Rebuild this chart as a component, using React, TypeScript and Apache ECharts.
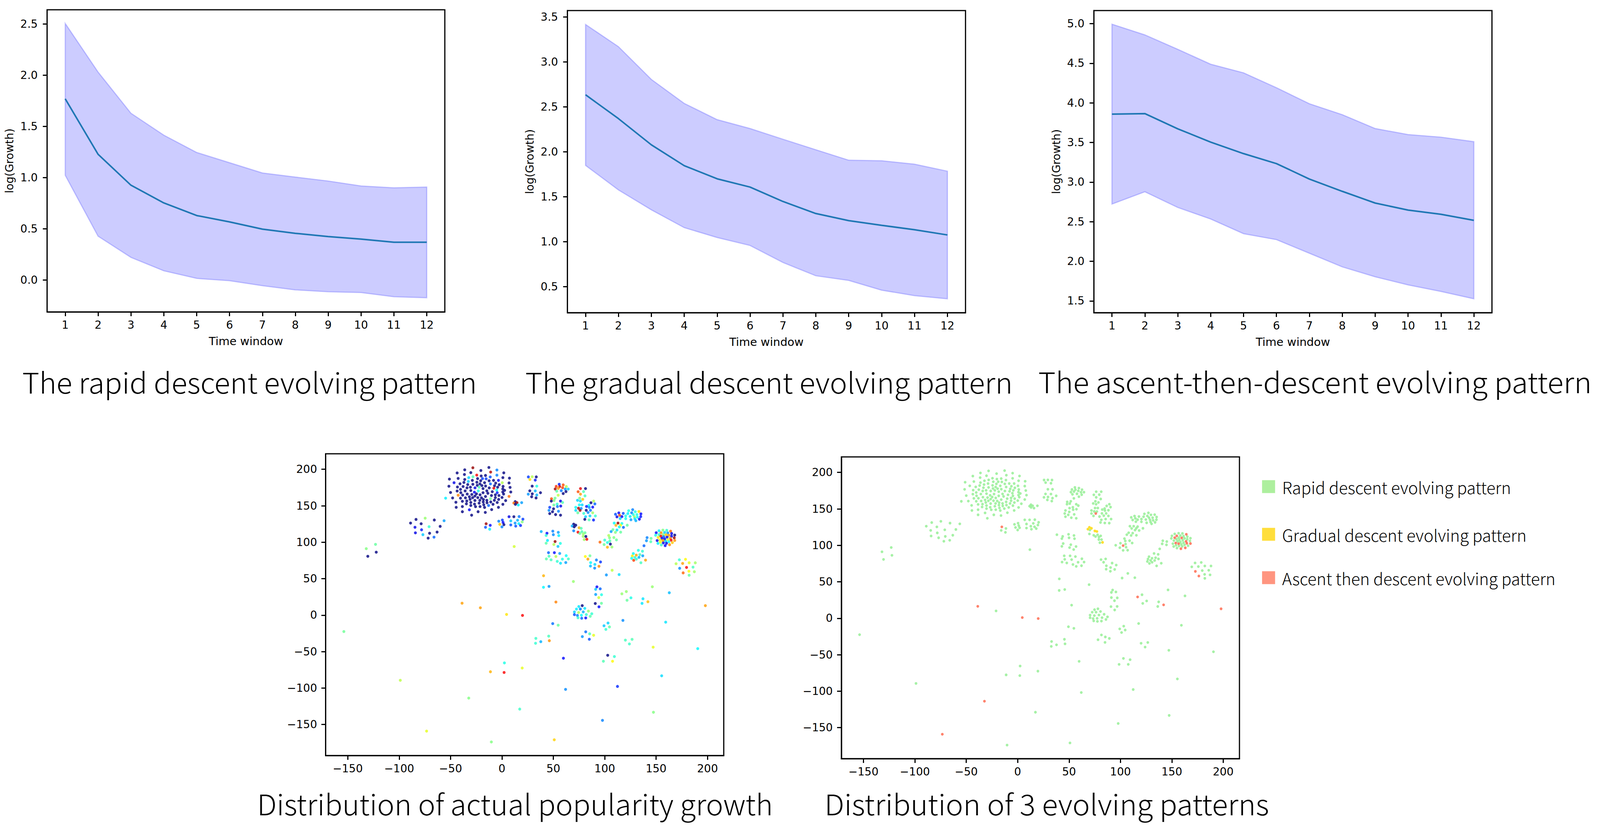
import React, { useEffect, useRef } from "react";
import * as echarts from "echarts";

const timeWindows = [1, 2, 3, 4, 5, 6, 7, 8, 9, 10, 11, 12];

const rapidMean = [1.769, 1.227, 0.925, 0.752, 0.629, 0.567, 0.496, 0.455, 0.424, 0.399, 0.368, 0.368];
const rapidUpper = [2.505, 2.03, 1.628, 1.414, 1.245, 1.145, 1.045, 1.005, 0.966, 0.918, 0.9, 0.907];
const rapidLower = [1.022, 0.427, 0.22, 0.089, 0.015, -0.008, -0.056, -0.097, -0.115, -0.123, -0.164, -0.174];

const gradualMean = [2.634, 2.369, 2.078, 1.846, 1.7, 1.608, 1.448, 1.314, 1.235, 1.183, 1.134, 1.076];
const gradualUpper = [3.416, 3.169, 2.805, 2.538, 2.358, 2.259, 2.14, 2.023, 1.907, 1.901, 1.863, 1.785];
const gradualLower = [1.849, 1.576, 1.355, 1.157, 1.047, 0.959, 0.77, 0.622, 0.57, 0.462, 0.401, 0.366];

const ascentMean = [3.857, 3.864, 3.672, 3.504, 3.359, 3.233, 3.038, 2.883, 2.735, 2.646, 2.593, 2.517];
const ascentUpper = [4.993, 4.858, 4.676, 4.488, 4.379, 4.191, 3.989, 3.851, 3.676, 3.6, 3.567, 3.51];
const ascentLower = [2.722, 2.877, 2.679, 2.533, 2.348, 2.273, 2.101, 1.929, 1.804, 1.701, 1.619, 1.526];

const rapidTicks = [0, 0.5, 1, 1.5, 2, 2.5];
const gradualTicks = [0.5, 1, 1.5, 2, 2.5, 3, 3.5];
const ascentTicks = [1.5, 2, 2.5, 3, 3.5, 4, 4.5, 5];
const tsneXTicks = [-150, -100, -50, 0, 50, 100, 150, 200];
const tsneYTicks = [-150, -100, -50, 0, 50, 100, 150, 200];

// t-SNE points: x, y, actual growth (0..1 on the jet scale), pattern (absent = rapid, 1 = gradual, 2 = ascent)
const mainCluster: number[][] = [
  [-28.3,202.1,.98],[-12.7,202.5,0],[-36.2,199.3,0],[-20.5,198.4,0],[-4.9,199.1,.25],[-11,196.2,.95],[-43.6,195,0],[-30.3,195.5,0],[1.8,195.2,0],[-36.5,192.9,0],
  [-24.5,192.1,.88],[-20.2,190.9,0],[-16,191.6,0],[-4.9,192,.25],[-32.3,188.6,.33],[-28.2,189.8,.45],[-11.4,189.5,.2],[-42.6,187.5,0],[-51.1,186.6,0],[-36.2,186.1,0],
  [-23.7,187.3,0],[-18.9,187.3,.18],[-15.4,187,.18],[.9,188.6,0],[7.3,187.9,0],[-28.8,184.8,0],[-20.7,184.3,0],[-12.5,184.3,0],[-8.2,184.8,0],[-3.4,184.8,.12],
  [-32.7,183.4,.32],[-37,182,0],[-24.4,182.3,0],[-16.9,181.6,0],[-6.1,181.1,0],[-46.6,181.6,.1],[.3,181.6,.55],[6.9,181.3,0],[-40.8,180.2,0],[-33.3,179.1,0],
  [-28.3,179.5,0],[-21.4,180,0],[-11.2,180,.22],[-2.7,178.9,0],[-24,178,0],[-19.5,177.7,0],[-15.9,177.1,0],[-7.2,177.5,0],[-51.6,176.8,0],[-37.8,176.4,0],
  [1.1,176.6,0],[-43.3,175.7,0],[-30.7,175.5,0],[-34,174.6,0],[-26.2,174.6,.1],[-22.2,175.5,.45],[-18.4,173.6,0],[-12.4,174.5,0],[-7.9,174.1,.9],[-4.2,175.5,0],
  [7.9,175.2,0],[-40.3,172.5,0],[.8,173,0],[-30.3,170.9,0],[-35.8,170.4,0],[-43.6,170.2,0],[-23,170.4,.4],[-14.7,170.5,0],[-5.1,171.6,.38],[2.6,171.2,0],
  [-9.4,169.3,0],[-26.8,168.6,.12],[.8,168.9,0],[8.6,168.9,0],[-40,168,0],[-50,168.2,0],[-18.4,167.9,0],[-4.6,167.9,.15],[-13.7,167.1,0],[-33.8,166.1,0],
  [-29.3,165.5,0],[-24.8,166.3,0],[-21.3,165,0],[-6.4,165,0],[1.6,166.1,0],[-38.2,164.6,0],[-42.6,164.5,.75],[-26.3,163.4,0],[-10.2,164.1,0],[-2.9,164.1,0],
  [6.9,162.9,.77],[-31.7,162.3,0],[-16,162.7,0],[-35.5,160.9,0],[-40.3,160.5,0],[-48,160.7,0],[-28.5,161.1,0],[-23.5,161.2,0],[-19.9,160.9,0],[-6.4,161.2,0],
  [.1,161.4,0],[-54.8,160.4,.36],[-11.2,159.6,.48],[-31,158.8,0],[-18,158.6,0],[-26.3,157.3,0],[-21.5,157.5,0],[-14.7,157.5,0],[-7.4,157.5,0],[-3.2,158.7,0],
  [-34.2,156.6,0],[-38.5,156.2,0],[3.6,157.1,0],[-44.8,154.8,0],[-30.3,154.6,0],[-18.2,155.2,0],[-14.5,154.1,0],[-10.9,155.2,0],[-4.6,154.5,0],[-22.2,153.6,0],
  [-34.6,152.7,0],[-26.7,152.3,0],[-8.7,152,0],[.9,152,0],[-17.7,151.4,0],[-30.3,150.4,0],[-13,150.4,.22],[-25.7,148.8,0],[-21.3,148.9,0],[-38.5,148.9,0],
  [-44.5,147.9,0],[-16.9,147.7,0],[-3.4,147.9,0],[-31.7,144.5,.12],[-10,144.8,0],[-38.5,141.9,0],[-23.2,141.9,0],[-16.2,140.9,0],[-29.5,137.1,0],
];

const upperClusters: number[][] = [
  [12.9,155.7,0],[14.6,154.3,.97],[11.6,153.8,.77],[13.1,152,0],[15.9,151.1,.36],[19.2,154.3,.28],
  [25.7,189.6,.18],[29.4,189.8,.55],[33.4,189.6,0],[27.2,186.1,.66],[32.4,185.2,.15],[29.4,176.9,0],[33.9,176.9,.4],[27.1,170.5,0],[32.4,170.4,.3],[37.5,167.9,0],[25.6,165.9,.27],[29.5,166.3,0],[33.9,164.8,.3],[28.9,162.3,0],[33.2,160.7,0],
  [-74.7,133,.52],[-83.6,131.3,0],[-65.8,130.5,0],[-56.3,129.5,.28],[-88.9,126.3,0],[-78.6,125.4,0],[-60.1,121.8,0],[-84.6,120.5,.1],[-70.9,121.3,.42],[-78.2,117.1,.15],[-84.2,112.9,.1],[-70.4,112.3,0],[-63.1,113.9,0],[-76.9,110.4,.32],[-66.1,107,.22],[-71.8,105.7,0],
  [-123,97.1,.47],[-132,91.2,.5],[-122.3,86.4,0],[-130.5,80.7,0],
  [-15.4,125.4,.97,2],[-11.4,123.2,.13],[-16,120.5,.2],[-11.9,117.9,.36],
  [.4,130.4,.18],[-3.1,128.8,.25],[1.1,127.1,.12],[-2.1,124.5,.68],[1.9,124.1,0],[0,121.1,.25],
  [6.9,135,.1],[11.6,135,0],[16.7,135.2,.24],[20.4,131.6,.18],[8.6,129.3,.32],[15.2,130.2,.3],[19.7,127.9,.5],[12.8,126.3,.27],[16.4,125.5,.36],[8.6,123.7,.2],[13.4,122.1,.2],[18.1,123,.16],
  [11.9,94.1,.58],
  [38.2,114.6,.3],[49.5,115.2,.25],[43.8,112.3,.13],[54.8,113.6,.28],[50,110.4,.26],[43,109.3,.42],[55.3,109.1,.36],[44.3,102.5,.36],[51.7,100.9,.98],[56.8,98.4,.4],[43,98.7,.46],[50.5,96.9,.55],[54.5,94.3,.32],
  [45.3,85.7,.22],[51,85.7,.13],[56.2,84.6,.28],[62.5,81.6,.38],[45.8,80.9,.44],[52.5,80.5,.55],[43.2,77.1,.46],[47.8,75.9,.44],[58.8,76.8,.4],[64.6,77.1,.43],[53.8,73.8,.42],[57,71.2,.35],[62.1,72.1,.28],
  [55.7,179.5,.15],[59.6,178.6,.8],[52.8,176.6,.83],[56.2,176.4,.93],[62.6,176.4,.55],[59,174.8,.82],[54.8,173.8,.74],[51.8,173,.97],[61.6,172.9,.28],[64.5,172.9,.33],[53.3,170,.46],[57.7,170.7,.24],[62.3,169.5,0],[59.6,166.8,0],[54.7,164.5,.56],
  [48.2,159.6,.8],[51.7,160.5,.48],[50.7,157.3,.5],[48,156.4,0],[57,156.4,.1],[59,154.5,.45],[53.7,152.3,.42],[50.5,151.1,.47],[57.2,149.6,.1],[54,148.9,.24],[46.5,147.9,.18],[50.2,145.9,0],[45.8,143.7,.26],[55,142.5,.25],[49.2,141.8,0],[46.5,139.3,0],[52.2,137.9,0],[57,137.1,0],
  [76.4,173.6,.9],[81.3,173.6,0],[74.1,169.3,.8],[79.4,169.5,.45],[76.4,165.9,.72],[80.8,163.6,.44],[75.6,160.5,.48],[78.6,158.9,.68],[73.5,157.5,.33],[76.3,156.4,.34],[89.2,156.4,.55],[86.6,154.1,0],[90.4,152.5,.22],[75.3,151.2,.38],[78,151.2,.34],[84.6,150.5,.38],[82.3,149.1,.15],[88.3,148.2,.13],[71.8,147.9,.38],[84.9,147.7,.27],[74.5,146.6,.95],[77.1,146.4,.26],[71.8,143.7,.34],[76,143.7,.98,2],[82,143.8,0],[86.1,143.8,.24],[83.8,140.7,.26],[73.8,140.4,.47],[88.3,140.4,.53],[79.6,139.5,.42],[85.6,136.1,.33],[81.4,135,.33],[90.9,136.1,.42],[80.6,131.4,0],[84.8,130.7,.45],[89.1,130.5,.15],
];

const rightClusters: number[][] = [
  [69.8,124.8,0,1],[71.8,123.4,0,1],[68.3,122.3,.3,1],[70.3,121.1,0],[75.1,119.8,.7,1],[77.1,119.1,.45,1],[69.8,115.7,.25],[74,113.8,.88],[77.8,114.5,.45],[75.8,112.1,.47],[80.8,113,.47],[79.1,111.4,.52],[81.6,107.9,0],[79,108,.53],[80,103.6,.53],[82.6,104.1,.88,1],
  [112.9,126.3,.98],[109.2,126.3,.38],[116.7,125.7,.38],[121.9,123.4,.47],[110.9,123.2,.7],[115.4,123.4,.62],[114.2,120.9,.38],[118.2,120.4,.22],[108,117.3,.47],[111.9,116.8,.35],[106.2,114.6,.28],[110.4,113.6,.5],[115.5,113.8,.47],[103.9,109.3,.54],[104.7,106.1,.5],[108.9,106.4,.5],[111.4,103.2,.47],[100,103,.42],[105,101.8,.45],[95.4,100.2,.78],[102.6,99.6,.4,2],[99.4,96.8,.48],[105.5,97.5,0],[102.6,93.2,.7],[107,93.4,.52],
  [127.2,144.6,.25],[123.3,143.2,.4],[133.3,142.1,.66],[129.7,141.8,.4],[126.2,140.4,.25],[113.7,140.2,.12],[118,139.5,.2],[110.5,138.4,.2],[122.5,139.3,.36],[135.2,138.9,.13],[127.8,137.9,.4],[131.3,137.9,.4],[114.5,137,.8],[120.4,136.1,.4],[124.7,135.4,.35],[111.9,134.8,.1],[116.7,135.2,.12],[135,135.2,.14],[128.8,135,.52],[131.8,134.3,.38],[115,132.5,.33],[120.4,132.3,.39],[129.3,132.1,.35],[133.7,131.6,.12],[125.5,130.9,.28],[130.3,129.5,.3],
  [156.6,116.6,.5],[160.3,116.4,.42],[164.1,115.2,.77,2],[152.8,115.7,.36],[154.8,113,.74,2],[158.3,113.4,.33],[161.4,112.7,.27],[150.1,113,.12],[165.1,112,.1],[152.8,110.5,.42,2],[149.5,109.5,.4],[156.8,110.4,.5],[159.6,110.2,.68,2],[162.4,109.6,.73],[168.1,109.8,0],[165,108.4,.1],[154.6,108.4,.9],[157.4,107.5,.22],[160.6,107,.1],[152,106.6,.65],[163.8,105.5,.74,2],[167.6,106.1,.97],[155.6,105.4,.1],[158.3,104.5,.1],[161.4,103.6,.58],[153.8,103.2,.64,2],[164.6,102.9,.88,2],[151,102.3,.1],[156.6,102.3,.73,2],[159.3,101.4,.33],[168.1,102.5,.73,2],[154.1,100.2,.62],[162.4,100.7,.38],[157,99.1,.1],[160.1,98.6,.1],[165.8,99.5,.68],[151.8,98.4,.36],[155,96.3,.43],[158.8,95.4,.12,2],[163.1,96.6,.74,2],
  [141.2,106.3,.25],[145.1,105.2,.47],[140.6,102.1,.27],[144.8,100.7,.45],[138.2,95.2,.22],
  [132.7,88.9,.4],[136.7,87.7,.42],[127.8,84.5,.37],[134.2,83,.44],[130.7,82.3,.71],[126.8,81.2,.64],[137,81.4,.28],[129.3,79.3,.42],[133.3,79.3,.3],[126.2,77.9,.38],[130.8,76.8,.42],[128.2,75.2,.82],[139.7,75.5,.72],[135.2,71.9,.44],
  [178.6,76.6,.63],[172.6,75.9,.42],[175.8,70.9,.72],[182.1,71.8,.6],[188.1,71.8,.53],[169.4,70.5,.55],[172.9,64.3,.26,2],[179.6,65.5,.88],[185.9,65.9,.44],[181.9,60.2,.62],[187.2,59.6,.53],[176.3,58,.78,2],[182.1,54.8,.47],
  [81.1,80.5,.63],[85.6,81.4,.48],[83.6,76.9,.72],[91.9,75.7,.25],[95.9,73,.17],[86.3,72,.37],[90.4,69.6,.34],[86.1,67.3,.31],[94.4,67,.74],[90.2,64.5,.26],
];

const lowerPoints: number[][] = [
  [107.2,61.6,.56],[101.6,55.2,.27],[114,55.7,.34],[40.5,54.1,.7],[69.5,46.2,.52],[146.3,38.9,.52],[162.8,30.7,.31],[40.4,38.2,.37],[45.8,39.5,.27],[92.4,38.8,.12],[91.2,35.5,.32],[95.6,36.1,.22],[91.2,28.4,.28],[96.9,28,.4],[94.2,24.1,.58],[121,32.3,.52],[116.7,29.3,.52,2],[125.5,23.8,.4],[121.7,20.4,.47],[137.2,22.5,.35],[142,18.4,.69,2],[136.3,16.2,.35],[197.9,13,.72,2],[52.5,18,.75],[90.8,16,0],[96.8,16.3,.47],[94.4,11.4,.13],[-38.8,16.4,.72,2],[-21,10.1,.72],
  [78.1,13,0],[74.8,11.8,.35],[80.6,9.3,.35],[76.3,8.4,.25],[72.5,8.4,.36],[84.1,5.5,.52],[70.5,4.3,.33],[74.6,3.7,.55],[79.1,4.5,.3],[87.4,1.9,.42],[70.5,.7,.2],[73.4,-.3,.25],[77.3,-.1,.38],[82.1,.9,.42],[85.9,-1.6,.46],[74,-3.6,.42],[77.6,-4.2,.22],[81.5,-3.8,.13],
  [4.5,1,.65,2],[20,-.3,.88,2],[-153.8,-22.5,.48],[49.4,-11.6,.23],[54.7,-13.7,.47],[117.7,-7.2,.26],[103.2,-10.8,.33],[99.3,-14.5,.32],[104.6,-16.1,.46],[101.1,-19.5,.42],[159.3,-9.6,.35],[81.5,-22.9,.23],[85.3,-25.6,.44],[89.2,-27.6,.6],[78.2,-29.4,.27],[85,-33,.2],[45.5,-28.8,.44],[33,-31.8,.43],[46.1,-35,.73],[37.8,-36.4,.3],[32.7,-38.5,.42],[120.1,-34.2,.44],[126.6,-33.2,.45],[124,-39.5,.43],[147.1,-43.9,.6],[190.5,-45.9,.37],
  [59.8,-59,.13],[102.9,-55,0],[109.4,-56.8,.42],[98.7,-63.2,.45],[107.6,-63.2,.63],[2.4,-65.5,.4],[19.7,-72.5,.6],[-11.2,-77.6,.7],[2.1,-78.6,.88],[-98.9,-89.3,.56],[155.4,-83.2,.34],[61.9,-101.8,.26],[112.4,-97.7,.16],[-32.3,-113.7,.5,2],[17.3,-128.8,.43],[147.4,-133.2,.5],[97.8,-144.3,.25],[-73.3,-159,.6,2],[-10.3,-173.9,.5],[50.9,-170.9,.67],
];

const tsnePoints = [...mainCluster, ...upperClusters, ...rightClusters, ...lowerPoints];

const jetColors = ["#00007f", "#0000ff", "#007fff", "#00ffff", "#7fff7f", "#ffff00", "#ff7f00", "#ff0000", "#7f0000"];

const patternNames = ["Rapid descent evolving pattern", "Gradual descent evolving pattern", "Ascent then descent evolving pattern"];
const patternDotColors = ["#90ee90", "#ffd700", "#ff6347"];
const patternKeyColors = ["#98eb86", "#ffd60a", "#ff7a60"];
const patternKeyTops = [1224, 1346, 1457];

const captions: [string, number, number, number][] = [
  ["The rapid descent evolving pattern", 58, 1011, 1187],
  ["The gradual descent evolving pattern", 1371, 1011, 1272],
  ["The ascent-then-descent evolving pattern", 2710, 1011, 1444],
  ["Distribution of actual popularity growth", 671, 2090, 1347],
  ["Distribution of 3 evolving patterns", 2152, 2090, 1160],
];

const TEXT_FONT = "DejaVu Sans";
const CAPTION_FONT = "Noto Sans CJK SC";
const CAPTION_SIZE = 73;
const DESIGN_WIDTH = 4176;

function measure(text: string, size: number) {
  const ctx = document.createElement("canvas").getContext("2d");
  if (!ctx) return 0;
  ctx.font = `300 ${size}px "${CAPTION_FONT}"`;
  return ctx.measureText(text).width;
}

function axisBase(ticks: number[], min: number, max: number, margin: number, fmt?: (v: number) => string) {
  return {
    type: "value",
    min,
    max,
    splitLine: { show: false },
    axisLine: { show: true, onZero: false, lineStyle: { color: "#000", width: 3 } },
    axisTick: { show: true, length: 11, lineStyle: { color: "#000", width: 3 }, customValues: ticks },
    axisLabel: {
      show: true,
      customValues: ticks,
      color: "#000",
      fontFamily: TEXT_FONT,
      fontSize: 28,
      margin,
      formatter: fmt,
    },
  };
}

const decimal = (v: number) => v.toFixed(1);
const minusInt = (v: number) => String(v).replace("-", "\u2212");

function buildOption(pageWidth: number) {
  // The browser may give a slightly narrower page than asked for: the layout follows its width.
  const sx = pageWidth / DESIGN_WIDTH;
  const grids = [
    { left: 123, top: 25, width: 1038, height: 773 },
    { left: 1481, top: 27, width: 1039, height: 773 },
    { left: 2855, top: 27, width: 1039, height: 773 },
    { left: 850, top: 1161, width: 1039, height: 772 },
    { left: 2196, top: 1169, width: 1039, height: 772 },
  ].map((g) => ({
    left: g.left * sx,
    top: g.top,
    width: g.width * sx,
    height: g.height,
    show: true,
    borderColor: "#000",
    borderWidth: 3,
    backgroundColor: "#fff",
  }));

  const lineSets = [
    { mean: rapidMean, upper: rapidUpper, lower: rapidLower, ticks: rapidTicks, min: -0.312, max: 2.638 },
    { mean: gradualMean, upper: gradualUpper, lower: gradualLower, ticks: gradualTicks, min: 0.212, max: 3.57 },
    { mean: ascentMean, upper: ascentUpper, lower: ascentLower, ticks: ascentTicks, min: 1.351, max: 5.165 },
  ];

  const xAxis: any[] = [];
  const yAxis: any[] = [];
  const series: any[] = [];

  lineSets.forEach((s, i) => {
    xAxis.push({
      ...axisBase(timeWindows, 0.45, 12.55, 19, (v: number) => String(v)),
      gridIndex: i,
      name: "Time window",
      nameLocation: "middle",
      nameGap: 60,
      nameTextStyle: { color: "#000", fontFamily: TEXT_FONT, fontSize: 29 },
    });
    yAxis.push({
      ...axisBase(s.ticks, s.min, s.max, 24, decimal),
      gridIndex: i,
      name: "log(Growth)",
      nameLocation: "middle",
      nameGap: 82,
      nameTextStyle: { color: "#000", fontFamily: TEXT_FONT, fontSize: 28 },
    });
    series.push({
      type: "custom",
      xAxisIndex: i,
      yAxisIndex: i,
      silent: true,
      encode: { x: 0, y: [1, 2] },
      data: timeWindows.map((w, k) => [w, s.lower[k], s.upper[k]]),
      renderItem: (params: any, api: any) => {
        if (params.dataIndex !== 0) return null;
        const top = timeWindows.map((w, k) => api.coord([w, s.upper[k]]));
        const bottom = timeWindows.map((w, k) => api.coord([w, s.lower[k]])).reverse();
        return {
          type: "polygon",
          shape: { points: [...top, ...bottom] },
          style: { fill: "rgba(0,0,255,0.2)", stroke: "rgba(0,0,255,0.2)", lineWidth: 3 },
        };
      },
      z: 2,
    });
    series.push({
      type: "line",
      xAxisIndex: i,
      yAxisIndex: i,
      data: timeWindows.map((w, k) => [w, s.mean[k]]),
      showSymbol: false,
      symbol: "none",
      lineStyle: { color: "#1f77b4", width: 4 },
      z: 3,
    });
  });

  [3, 4].forEach((i) => {
    xAxis.push({ ...axisBase(tsneXTicks, -171.5, 215.8, 19, minusInt), gridIndex: i });
    yAxis.push({ ...axisBase(tsneYTicks, -192.5, 221.3, 22, minusInt), gridIndex: i });
  });

  const growthSeriesIndex = series.length;
  series.push({
    type: "scatter",
    xAxisIndex: 3,
    yAxisIndex: 3,
    symbolSize: 7.5,
    data: tsnePoints.map((p) => [p[0], p[1], p[2]]),
    z: 3,
  });

  patternNames.forEach((name, idx) => {
    series.push({
      type: "scatter",
      name,
      xAxisIndex: 4,
      yAxisIndex: 4,
      symbolSize: 7,
      itemStyle: { color: patternDotColors[idx] },
      data: tsnePoints.filter((p) => (p[3] || 0) === idx).map((p) => [p[0], p[1]]),
      z: 3 + idx,
    });
  });

  return {
    animation: false,
    backgroundColor: "#fff",
    grid: grids,
    xAxis,
    yAxis,
    series,
    visualMap: {
      show: false,
      type: "continuous",
      min: 0,
      max: 1,
      dimension: 2,
      seriesIndex: growthSeriesIndex,
      inRange: { color: jetColors },
    },
    legend: patternNames.map((name, idx) => ({
      left: 3294 * sx,
      top: patternKeyTops[idx],
      padding: 0,
      itemWidth: 34 * sx,
      itemHeight: 33,
      icon: "rect",
      selectedMode: false,
      data: [{ name, itemStyle: { color: patternKeyColors[idx] } }],
      textStyle: { color: "#000", fontFamily: CAPTION_FONT, fontWeight: 300, fontSize: 43 * sx, padding: [0, 0, 0, 13] },
    })),
    graphic: captions.map(([text, x, baseline, width]) => {
      const measured = measure(text, CAPTION_SIZE);
      return {
        type: "text",
        x: x * sx,
        y: baseline,
        scaleX: measured > 0 ? (width * sx) / measured : 1,
        style: {
          text,
          fill: "#000",
          fontFamily: CAPTION_FONT,
          fontWeight: 300,
          fontSize: CAPTION_SIZE,
          textAlign: "left",
          textVerticalAlign: "bottom",
        },
      };
    }),
  };
}

export default function App() {
  const ref = useRef<HTMLDivElement>(null);
  useEffect(() => {
    if (!ref.current) return;
    const chart = echarts.init(ref.current, undefined, { renderer: "svg" });
    chart.setOption(buildOption(ref.current.clientWidth) as any);
    return () => chart.dispose();
  }, []);
  return (
    <div
      ref={ref}
      style={{ position: "fixed", left: 0, top: 0, width: "100vw", maxWidth: DESIGN_WIDTH, height: 2121, background: "#fff" }}
    />
  );
}
